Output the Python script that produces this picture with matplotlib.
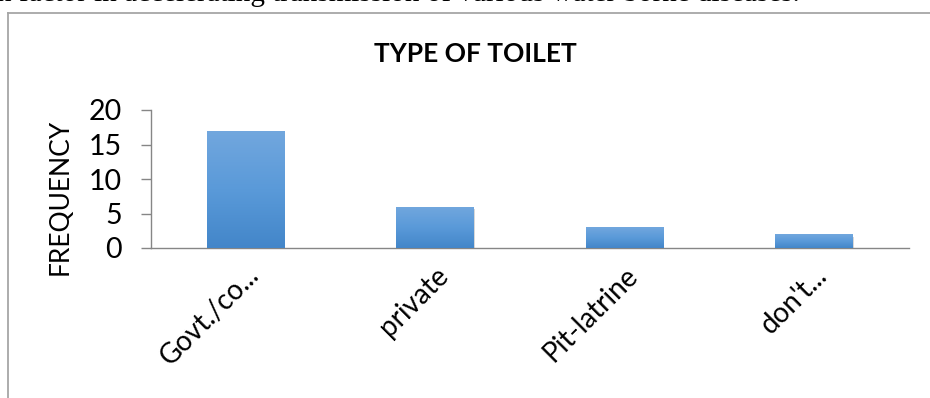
import matplotlib.pyplot as plt
import matplotlib.patheffects as pe
import numpy as np
from matplotlib.colors import LinearSegmentedColormap
from matplotlib.lines import Line2D
from matplotlib.transforms import ScaledTranslation

categories = ['Govt./co...', 'private', 'Pit-latrine', "don't..."]
frequency = [17, 6, 3, 2]
y_ticks = [0, 5, 10, 15, 20]

plt.rcParams['font.family'] = ['Lato', 'DejaVu Sans']

fig = plt.figure(figsize=(9.30, 3.98), dpi=100)

# text line of the document, cut off at top
fig.text(-0.003, 1 - 1 / 398, 'n factor in accelerating transmission of various water borne diseases.',
         family='Liberation Serif', fontsize=21, va='baseline', ha='left')

# chart frame (only top and left edges visible)
fig.add_artist(Line2D([8 / 930, 1.0], [1 - 13 / 398, 1 - 13 / 398], color='#a6a6a6', lw=1.3))
fig.add_artist(Line2D([8 / 930, 8 / 930], [0.0, 1 - 13 / 398], color='#a6a6a6', lw=1.3))

ax = fig.add_axes([151 / 930, 1 - 248 / 398, (909 - 151) / 930, (248 - 110) / 398])

x = np.arange(len(categories))
bars = ax.bar(x, frequency, width=0.41, color='#5b9bd5', zorder=2,
              path_effects=[pe.SimplePatchShadow(offset=(0.5, -2), shadow_rgbFace='#808080', alpha=0.3),
                            pe.Normal()])

cmap = LinearSegmentedColormap.from_list('bar', ['#4386c9', '#5a9ad9', '#72a7de'])
grad = np.linspace(0, 1, 256).reshape(-1, 1)
for b in bars:
    x0, y0 = b.get_x(), b.get_y()
    im = ax.imshow(grad, cmap=cmap, origin='lower', aspect='auto', zorder=3,
                   extent=[x0, x0 + b.get_width(), y0, y0 + b.get_height()])
    im.set_clip_path(b)

ax.set_xlim(-0.5, len(categories) - 0.5)
ax.set_ylim(0, 20)
ax.set_yticks(y_ticks)
ax.set_xticks(x)

for s in ['top', 'right']:
    ax.spines[s].set_visible(False)
for s in ['left', 'bottom']:
    ax.spines[s].set_color('#868686')
    ax.spines[s].set_linewidth(1.0)

ax.tick_params(axis='y', length=7, width=1.0, color='#868686', pad=14, labelsize=20.5)
ax.tick_params(axis='x', length=0, pad=0, labelsize=20)

ax.set_xticklabels(categories, rotation=45, ha='right', va='center', rotation_mode='anchor')
off = ScaledTranslation(9 / 100, -23 / 100, fig.dpi_scale_trans)
for lab in ax.get_xticklabels():
    lab.set_transform(lab.get_transform() + off)

ax.set_ylabel('FREQUENCY', fontsize=19)
ax.yaxis.set_label_coords(-0.104, 0.37)

fig.text(475 / 930, 1 - 54 / 398, 'TYPE OF TOILET', fontsize=19, fontweight='bold',
         ha='center', va='center')

fig.savefig('out.png', dpi=100)
